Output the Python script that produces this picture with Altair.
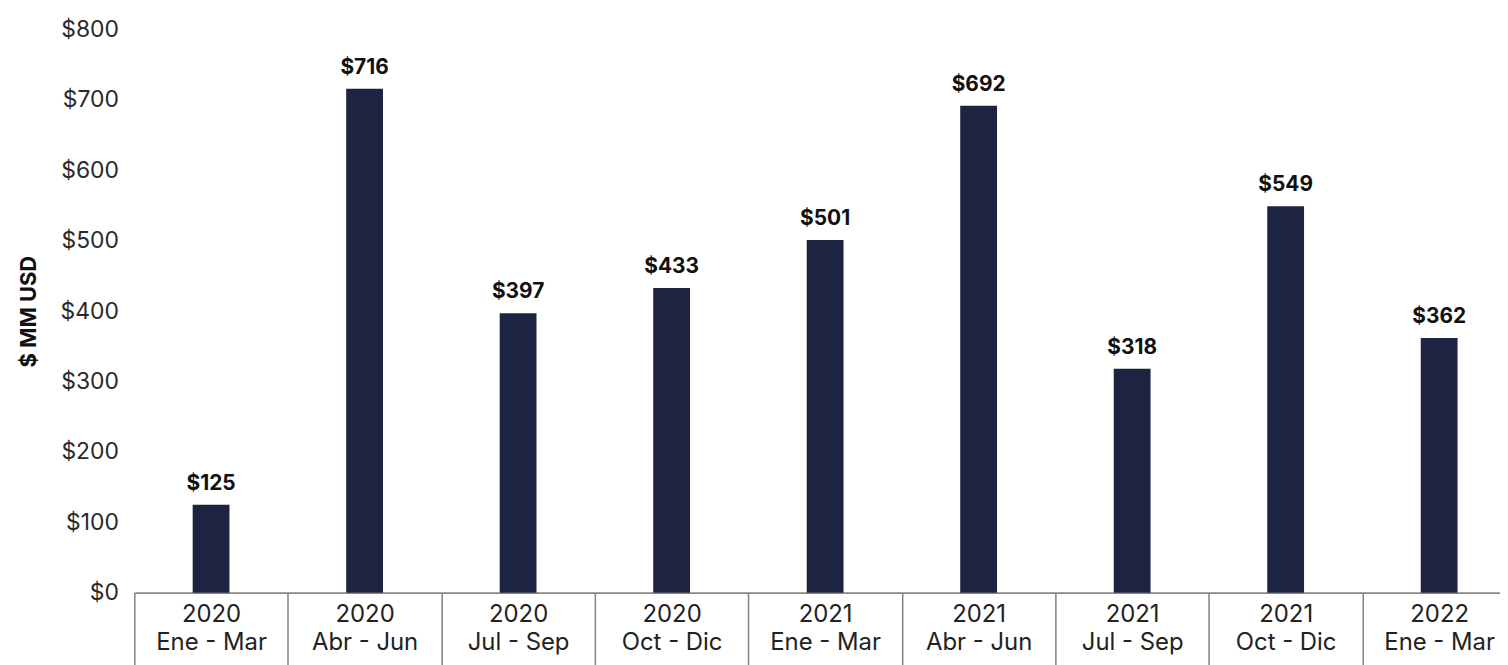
import altair as alt
import pandas as pd

years = ["2020", "2020", "2020", "2020", "2021", "2021", "2021", "2021", "2022"]
quarters = ["Ene - Mar", "Abr - Jun", "Jul - Sep", "Oct - Dic", "Ene - Mar",
            "Abr - Jun", "Jul - Sep", "Oct - Dic", "Ene - Mar"]
values = [125, 716, 397, 433, 501, 692, 318, 549, 362]

cats = [f"{y}|{q}|{i}" for i, (y, q) in enumerate(zip(years, quarters))]
df = pd.DataFrame({"cat": cats, "value": values})
df["label"] = ["$" + str(v) for v in values]

FONT = "Inter"
COLOR = "#1d2442"

x = alt.X("cat:N", sort=None, title=None,
          scale=alt.Scale(range=[0, 1389], paddingInner=0, paddingOuter=0),
          axis=alt.Axis(labelExpr="[split(datum.label, '|')[0], split(datum.label, '|')[1]]",
                        labelAngle=0, labelFontSize=24, labelColor="#222", labelFont=FONT,
                        labelPadding=-65, labelLineHeight=28, labelBaseline="top",
                        domainColor="#888", domainWidth=2,
                        ticks=True, tickBand="extent", tickSize=75, tickColor="#808080",
                        tickWidth=1.5))

bars = alt.Chart(df).mark_bar(color=COLOR, size=37).encode(
    x=x,
    y=alt.Y("value:Q", title="$ MM USD",
            scale=alt.Scale(domain=[0, 800]),
            axis=alt.Axis(values=list(range(0, 801, 100)), labelExpr="'$' + datum.value",
                          labelFontSize=23, labelColor="#2a2a2a", labelFont=FONT,
                          labelPadding=16, domain=False, ticks=False, grid=False,
                          titleFont=FONT, titleFontSize=22, titleFontWeight="bold",
                          titleColor="#111", titlePadding=20)),
)

text = alt.Chart(df).mark_text(baseline="bottom", dy=-11, fontSize=21, fontWeight="bold",
                               font=FONT, color="#111").encode(
    x=alt.X("cat:N", sort=None),
    y="value:Q",
    text="label:N",
)

chart = (bars + text).properties(
    width=1373, height=566,
    autosize=alt.AutoSizeParams(type="none"),
    padding={"left": 127, "top": 20, "right": 0, "bottom": 71},
).configure_view(stroke=None)

chart.save("out.html", embed_options={"renderer": "svg", "actions": False})
